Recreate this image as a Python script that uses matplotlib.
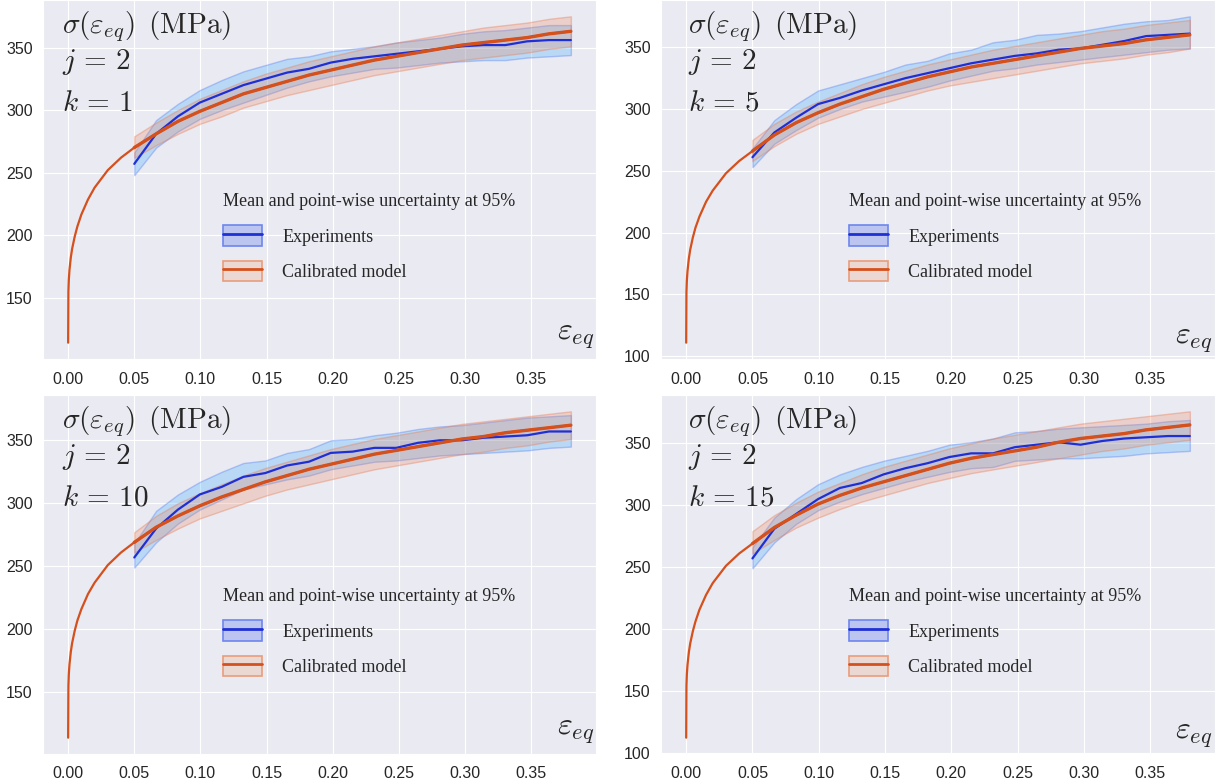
import numpy as np
import matplotlib
matplotlib.use('Agg')
import matplotlib.pyplot as plt
import seaborn as sns
from matplotlib.patches import Patch
from matplotlib.lines import Line2D
from matplotlib.legend_handler import HandlerTuple

sns.set_style('darkgrid')
plt.rcParams['font.family'] = ['Liberation Sans', 'DejaVu Sans']
plt.rcParams['mathtext.fontset'] = 'cm'

#---------------------- DATA
k_values = [1, 5, 10, 15]

# strain grid of the model curve before the experimental range
eps_pre = [0.0, 0.0002, 0.0005, 0.001, 0.002, 0.003, 0.005, 0.007, 0.01, 0.015,
           0.02, 0.025, 0.03, 0.035, 0.04, 0.045]
# strain grid of the experiments / calibrated band
eps_exp = [0.05, 0.0665, 0.083, 0.0995, 0.116, 0.1325, 0.149, 0.1655, 0.182, 0.1985, 0.215,
           0.2315, 0.248, 0.2645, 0.281, 0.2975, 0.314, 0.3305, 0.347, 0.3635, 0.38]

# calibrated model, early part (MPa)
model_pre_k1  = [114, 155, 164, 172, 182, 189, 199, 207, 216.5, 228.5, 238, 245, 252, 257, 262, 266]
model_pre_k5  = [111, 152, 161, 169, 179, 186, 196, 204, 213, 225, 234, 241, 248, 253, 258, 262]
model_pre_k10 = [114, 155, 164, 172, 182, 189, 199, 207, 216, 228, 237, 244, 251, 256, 261, 265]
model_pre_k15 = [112, 154, 163, 171, 181, 188, 198, 206, 215.5, 227.5, 237, 244, 251, 256, 261, 265]

# calibrated model mean and 95% band on eps_exp
model_k1    = [270, 281, 291, 299, 306, 313, 318, 323, 328, 332, 336, 340, 343, 346, 349, 352, 354, 356, 358, 361, 363]
model_lo_k1 = [262, 272, 281, 289, 295, 302, 307, 312, 316, 320, 324, 328, 331, 334, 337, 340, 342, 344, 346, 349, 351]
model_hi_k1 = [279, 290, 300, 309, 316, 323, 329, 334, 339, 343, 347, 351, 354, 357, 360, 363, 366, 368, 370, 373, 375]

model_k5    = [266, 279, 289, 297, 304, 310, 316, 321, 326, 330, 334, 337, 340, 343, 346, 349, 351, 353, 356, 358, 360]
model_lo_k5 = [258, 270, 280, 288, 294, 300, 305, 310, 315, 319, 322, 325, 328, 331, 334, 337, 339, 341, 344, 346, 349]
model_hi_k5 = [275, 288, 298, 306, 313, 320, 326, 331, 336, 340, 344, 348, 351, 354, 357, 360, 363, 365, 368, 370, 372]

model_k10    = [269, 281, 290, 298, 305, 311, 317, 322, 327, 331, 335, 339, 342, 345, 348, 351, 353, 356, 358, 360, 362]
model_lo_k10 = [261, 271, 280, 288, 294, 300, 306, 311, 315, 319, 323, 327, 330, 333, 336, 339, 341, 344, 346, 349, 351]
model_hi_k10 = [277, 290, 300, 308, 315, 322, 328, 333, 338, 343, 347, 351, 354, 357, 360, 363, 365, 367, 369, 371, 373]

model_k15    = [269, 282, 292, 301, 308, 314, 319, 324, 329, 334, 338, 341, 344, 347, 351, 354, 356, 358, 361, 363, 365]
model_lo_k15 = [261, 272, 282, 290, 297, 303, 308, 313, 318, 322, 326, 329, 332, 335, 338, 341, 344, 346, 349, 351, 353]
model_hi_k15 = [279, 292, 302, 311, 318, 325, 331, 336, 341, 346, 350, 354, 357, 360, 363, 366, 368, 370, 372, 374, 376]

# experiments mean and 95% band on eps_exp
exp_k1    = [257, 281, 295, 306, 313, 320, 325, 330, 333, 338, 341, 343, 345, 347, 349, 351, 352, 352, 355, 356, 356]
exp_lo_k1 = [248, 270, 283, 293, 300, 306, 312, 318, 323, 327, 330, 333, 334, 336, 338, 339, 340, 340, 342, 343, 344]
exp_hi_k1 = [266, 292, 305, 316, 324, 331, 336, 341, 343, 347, 349, 351, 354, 356, 358, 361, 363, 364, 366, 368, 368]

exp_k5    = [261, 281, 293, 304, 309, 315, 320, 325, 329, 333, 337, 340, 343, 345, 348, 349, 352, 355, 359, 360, 361]
exp_lo_k5 = [253, 272, 283, 293, 300, 306, 310, 314, 318, 323, 327, 331, 333, 336, 338, 340, 342, 344, 346, 348, 349]
exp_hi_k5 = [268, 291, 304, 315, 320, 325, 330, 336, 339, 345, 348, 354, 356, 360, 361, 363, 366, 369, 371, 372, 375]

exp_k10    = [257, 280, 295, 307, 313, 321, 324, 330, 333, 340, 341, 344, 344, 348, 350, 350, 352, 353, 354, 357, 357]
exp_lo_k10 = [249, 269, 284, 295, 303, 311, 315, 319, 322, 327, 330, 333, 334, 336, 338, 339, 340, 341, 342, 344, 345]
exp_hi_k10 = [268, 294, 307, 317, 325, 332, 334, 340, 343, 350, 351, 354, 356, 359, 361, 362, 364, 366, 368, 369, 370]

exp_k15    = [257, 281, 293, 305, 314, 318, 325, 330, 334, 339, 342, 342, 347, 349, 351, 349, 352, 354, 355, 356, 356]
exp_lo_k15 = [249, 270, 285, 296, 303, 309, 314, 319, 323, 327, 330, 331, 336, 337, 338, 338, 339, 340, 342, 343, 344]
exp_hi_k15 = [266, 290, 305, 317, 325, 331, 336, 340, 344, 349, 351, 354, 359, 360, 362, 363, 364, 365, 366, 368, 369]

xticks = [0.00, 0.05, 0.10, 0.15, 0.20, 0.25, 0.30, 0.35]
xticklabels = ['0.00', '0.05', '0.10', '0.15', '0.20', '0.25', '0.30', '0.35']

panels = [
    (1,  model_pre_k1,  model_k1,  model_lo_k1,  model_hi_k1,  exp_k1,  exp_lo_k1,  exp_hi_k1),
    (5,  model_pre_k5,  model_k5,  model_lo_k5,  model_hi_k5,  exp_k5,  exp_lo_k5,  exp_hi_k5),
    (10, model_pre_k10, model_k10, model_lo_k10, model_hi_k10, exp_k10, exp_lo_k10, exp_hi_k10),
    (15, model_pre_k15, model_k15, model_lo_k15, model_hi_k15, exp_k15, exp_lo_k15, exp_hi_k15),
]

##------------------------PLOTTING
blue = '#1f2fd6'
red = '#d4501c'

W, H = 1225., 780.
positions = [[43/W, 421/H, 553/W, 359/H],
             [661/W, 421/H, 554/W, 359/H],
             [43/W, 26/H, 553/W, 359/H],
             [661/W, 26/H, 554/W, 359/H]]
# per column: text x, eps label x/y, legend anchor x
txt_x = [0.035, 0.048, 0.035, 0.048]
lab_x = [0.998, 0.995, 0.998, 0.995]
lab_y = [0.055, 0.042, 0.055, 0.042]
leg_x = [0.325, 0.339, 0.325, 0.339]

fig = plt.figure(figsize=(12.25, 7.8), dpi=100)

for i, (k, mpre, mod, mlo, mhi, ex, elo, ehi) in enumerate(panels):
    ax = fig.add_axes(positions[i])
    ax.fill_between(eps_exp, elo, ehi, facecolor=(0.15, 0.65, 1.0, 0.25),
                    edgecolor=(0.3, 0.45, 0.95, 0.35), linewidth=1.0)
    ax.fill_between(eps_exp, mlo, mhi, facecolor=(0.94, 0.51, 0.35, 0.25),
                    edgecolor=(0.9, 0.5, 0.35, 0.4), linewidth=1.0)
    ax.plot(eps_exp, ex, color=blue, linewidth=1.6)
    ax.plot(eps_pre + eps_exp, mpre + mod, color=red, linewidth=1.6)
    ax.plot(eps_exp, mod, color=red, linewidth=2.4)

    ax.set_xticks(xticks)
    ax.set_xticklabels(xticklabels)
    ax.tick_params(axis='x', labelsize=11.5, pad=5.5, colors='#262626')
    ax.tick_params(axis='y', labelsize=11.5, pad=4.0, colors='#262626')

    ax.text(txt_x[i], 0.907, r'$\sigma(\varepsilon_{eq})\ \,\mathrm{(MPa)}$', transform=ax.transAxes,
            fontsize=21, va='baseline', ha='left')
    ax.text(txt_x[i], 0.808, r'$j\,=\,2$', transform=ax.transAxes,
            fontsize=21, va='baseline', ha='left')
    ax.text(txt_x[i], 0.691, r'$k\,=\,%d$' % k, transform=ax.transAxes,
            fontsize=21, va='baseline', ha='left')
    ax.text(lab_x[i], lab_y[i], r'$\varepsilon_{eq}$', transform=ax.transAxes,
            fontsize=23, va='baseline', ha='right')

    h_exp = (Patch(facecolor='#bcc5f0', edgecolor='#6f86ee', linewidth=1.2),
             Line2D([], [], color=blue, linewidth=2.0))
    h_mod = (Patch(facecolor='#ecd8d2', edgecolor='#e89d7c', linewidth=1.2),
             Line2D([], [], color=red, linewidth=2.0))
    leg = ax.legend([h_exp, h_mod], ['Experiments', 'Calibrated model'],
                    handler_map={tuple: HandlerTuple(ndivide=1, pad=0)},
                    title='Mean and point-wise uncertainty at 95%',
                    loc='upper left', bbox_to_anchor=(leg_x[i], 0.462), borderaxespad=0,
                    borderpad=0, frameon=False, alignment='left',
                    prop={'family': 'Liberation Serif', 'size': 13},
                    handlelength=2.15, handleheight=1.33, handletextpad=1.15, labelspacing=0.85)
    leg.get_title().set_fontfamily('Liberation Serif')
    leg.get_title().set_fontsize(13)

plt.savefig('out.png', dpi=100)
